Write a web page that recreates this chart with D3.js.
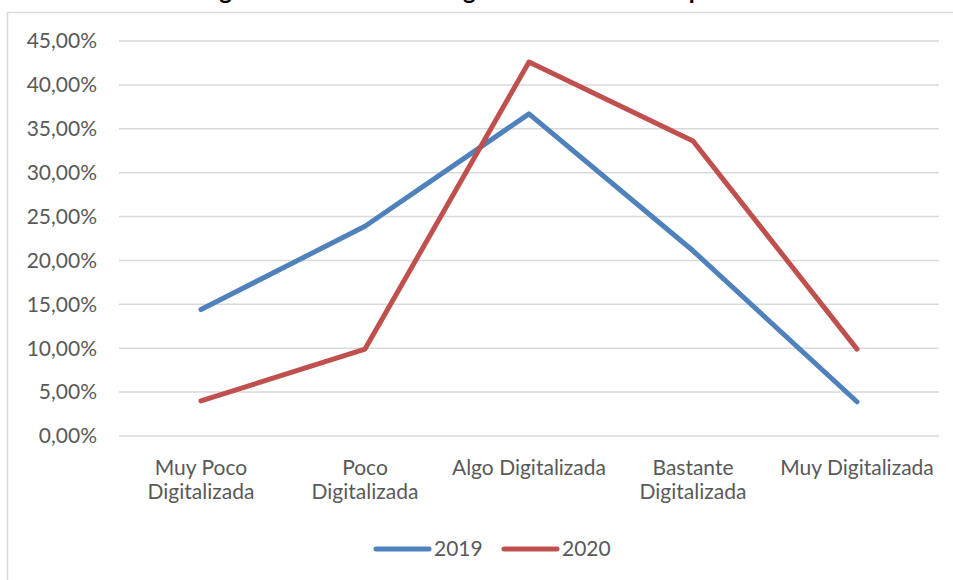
<!DOCTYPE html>
<html lang="es">
<head>
<meta charset="UTF-8">
<title>Nivel de digitalización</title>
<script src="https://cdn.jsdelivr.net/npm/d3@7"></script>
<style>
    body { margin: 0; background: #fff; }
    svg { display: block; font-family: Lato, "Open Sans", sans-serif; }
    .grid line { stroke: #d9d9d9; stroke-width: 1.5; }
    .tick-label, .cat-label, .legend-label { fill: #595959; font-size: 21px; }
    .title { font-size: 24px; font-weight: bold; fill: #000; }
</style>
</head>
<body>
<div id="chart"></div>
<script>
    const categories = ["Muy Poco Digitalizada", "Poco Digitalizada", "Algo Digitalizada", "Bastante Digitalizada", "Muy Digitalizada"];
    const categoryLines = [["Muy Poco", "Digitalizada"], ["Poco", "Digitalizada"], ["Algo Digitalizada"], ["Bastante", "Digitalizada"], ["Muy Digitalizada"]];
    const values2019 = [0.144, 0.239, 0.367, 0.211, 0.039];
    const values2020 = [0.040, 0.099, 0.426, 0.336, 0.099];
    const yTicks = [0, 0.05, 0.10, 0.15, 0.20, 0.25, 0.30, 0.35, 0.40, 0.45];

    const series = [
        { name: "2019", values: values2019, color: "#4f81bd" },
        { name: "2020", values: values2020, color: "#c0504d" }
    ];

    const width = 953, height = 580;
    const svg = d3.select("#chart").append("svg")
        .attr("width", width)
        .attr("height", height);

    // chart frame (cut off at right/bottom like the screenshot)
    svg.append("rect")
        .attr("x", 7.5).attr("y", 12.5)
        .attr("width", 1000).attr("height", 700)
        .attr("fill", "#fff")
        .attr("stroke", "#d9d9d9")
        .attr("stroke-width", 1.5);

    // title, mostly off the top of the picture
    svg.append("text")
        .attr("class", "title")
        .attr("x", 470)
        .attr("y", -1)
        .attr("text-anchor", "middle")
        .text("Diagnóstico del nivel de digitalización de las empresas");

    const x = d3.scaleBand().domain(categories).range([119, 939]);
    const y = d3.scaleLinear().domain([0, 0.45]).range([436, 41]);
    const fmt = v => d3.format(".2f")(v * 100).replace(".", ",") + "%";

    const grid = svg.append("g").attr("class", "grid");
    grid.selectAll("line")
        .data(yTicks)
        .enter()
        .append("line")
        .attr("x1", 119).attr("x2", 939)
        .attr("y1", d => y(d)).attr("y2", d => y(d));

    svg.selectAll(".tick-label")
        .data(yTicks)
        .enter()
        .append("text")
        .attr("class", "tick-label")
        .attr("x", 97)
        .attr("y", d => y(d))
        .attr("dy", "0.35em")
        .attr("text-anchor", "end")
        .text(fmt);

    const cat = svg.selectAll(".cat-label")
        .data(categories)
        .enter()
        .append("text")
        .attr("class", "cat-label")
        .attr("text-anchor", "middle")
        .attr("x", d => x(d) + x.bandwidth() / 2)
        .attr("y", 475);
    cat.selectAll("tspan")
        .data((d, i) => categoryLines[i])
        .enter()
        .append("tspan")
        .attr("x", function() { return this.parentNode.getAttribute("x"); })
        .attr("dy", (d, i) => i === 0 ? 0 : 24)
        .text(d => d);

    const line = d3.line()
        .x((d, i) => x(categories[i]) + x.bandwidth() / 2)
        .y(d => y(d));

    svg.selectAll(".series")
        .data(series)
        .enter()
        .append("path")
        .attr("class", "series")
        .attr("fill", "none")
        .attr("stroke", d => d.color)
        .attr("stroke-width", 5)
        .attr("stroke-linejoin", "round")
        .attr("stroke-linecap", "round")
        .attr("d", d => line(d.values));

    // legend
    const legend = svg.selectAll(".legend")
        .data(series)
        .enter()
        .append("g")
        .attr("class", "legend")
        .attr("transform", (d, i) => "translate(" + (376 + i * 128) + ",549)");
    legend.append("line")
        .attr("x1", 0).attr("x2", 53)
        .attr("stroke", d => d.color)
        .attr("stroke-width", 5)
        .attr("stroke-linecap", "round");
    legend.append("text")
        .attr("class", "legend-label")
        .attr("x", 58)
        .attr("dy", "0.35em")
        .text(d => d.name);
</script>
</body>
</html>
